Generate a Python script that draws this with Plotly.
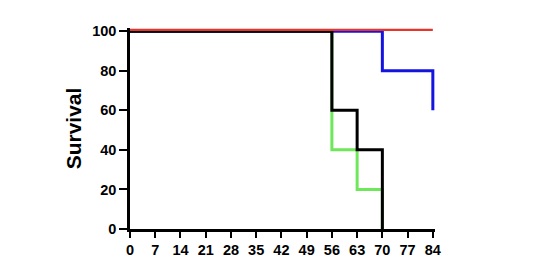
import plotly.graph_objects as go

# Kaplan-Meier style step data (days, survival %)
red_x = [0, 84]
red_y = [100, 100]
blue_x = [0, 70, 70, 84, 84]
blue_y = [100, 100, 80, 80, 60]
green_x = [0, 56, 56, 63, 63, 70, 70]
green_y = [100, 100, 40, 40, 20, 20, 0]
black_x = [0, 56, 56, 63, 63, 70, 70]
black_y = [100, 100, 60, 60, 40, 40, 0]

x_ticks = list(range(0, 85, 7))
y_ticks = [0, 20, 40, 60, 80, 100]

fig = go.Figure()
fig.add_trace(go.Scatter(x=green_x, y=green_y, mode="lines",
                         line=dict(color="#6ee85a", width=3)))
fig.add_trace(go.Scatter(x=blue_x, y=blue_y, mode="lines",
                         line=dict(color="#1414e0", width=3)))
fig.add_trace(go.Scatter(x=black_x, y=black_y, mode="lines",
                         line=dict(color="#000000", width=3)))
fig.add_trace(go.Scatter(x=red_x, y=[v + 0.7 for v in red_y], mode="lines",
                         line=dict(color="#e8352b", width=2.2)))

# plot area: x 0..84 -> px 130..433 ; y 0..100 -> px 229..31
px_per_day = 303 / 84
px_per_pct = 198 / 100
x_hi = 84.6
y_hi = 101.6
font = dict(family="Liberation Sans, Arial, sans-serif", size=14.5, color="black")
fig.update_layout(
    width=533, height=261,
    margin=dict(l=130, r=round(533 - 130 - x_hi * px_per_day),
                t=round(229 - y_hi * px_per_pct), b=32, autoexpand=False),
    paper_bgcolor="white", plot_bgcolor="white",
    showlegend=False,
    font=font,
)
fig.update_xaxes(range=[0, x_hi], tickvals=x_ticks,
                 ticktext=[f"<b>{t}</b>" for t in x_ticks],
                 showgrid=False, zeroline=False, showline=True,
                 linecolor="black", linewidth=2.5, automargin=False,
                 ticks="outside", ticklen=6, tickwidth=2, tickcolor="black",
                 tickfont=dict(size=14.5))
fig.update_yaxes(range=[0, y_hi], tickvals=y_ticks,
                 ticktext=[f"<b>{t}</b>" for t in y_ticks],
                 showgrid=False, zeroline=False, showline=True,
                 linecolor="black", linewidth=2.5, automargin=False,
                 ticks="outside", ticklen=8, tickwidth=2, tickcolor="black",
                 tickfont=dict(size=14.5),
                 title=dict(text="<b>Survival</b>", font=dict(size=21), standoff=5))

fig.write_html("out.html")
